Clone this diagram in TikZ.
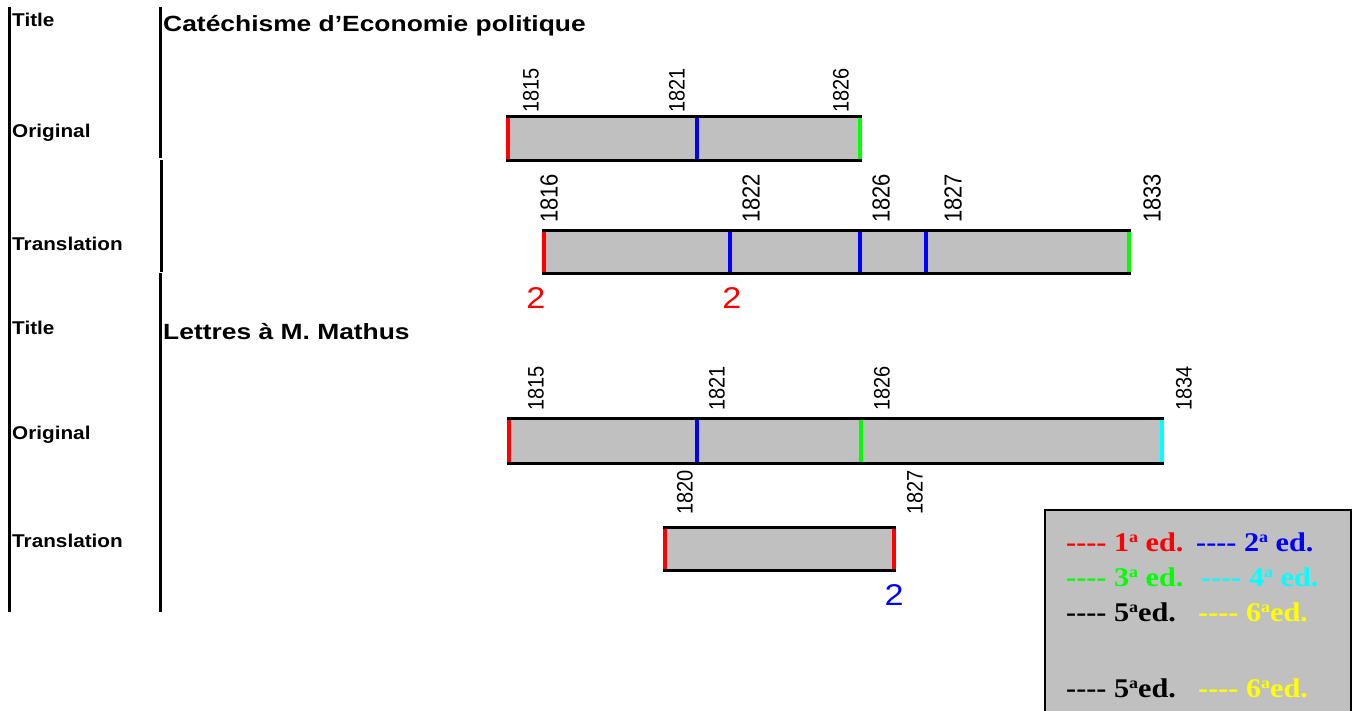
\documentclass[tikz,border=0pt]{standalone}
\usepackage{fontspec}
\setmainfont{Liberation Sans}
\newfontfamily\legfont{Liberation Serif}
\definecolor{barfill}{RGB}{192,192,192}
\definecolor{edred}{RGB}{255,0,0}
\definecolor{edblue}{RGB}{0,0,255}
\definecolor{edgreen}{RGB}{0,255,0}
\definecolor{edcyan}{RGB}{0,255,255}
\definecolor{edyellow}{RGB}{255,255,0}
\newcommand\legdashes{-\kern0pt-\kern0pt-\kern0pt-}
\newcommand\ordA{\raisebox{9pt}{\fontsize{16}{16}\selectfont a}}
\begin{document}
\begin{tikzpicture}[x=1pt,y=-1pt,
  rowlab/.style={anchor=base west, inner sep=0, xscale=1.12, font=\bfseries\fontsize{18.5}{20}\selectfont},
  booktitle/.style={anchor=base west, inner sep=0, xscale=1.2, font=\bfseries\fontsize{22}{24}\selectfont},
  yearlab/.style={anchor=south west, inner sep=0, xscale=1.12, rotate=90, font=\fontsize{20}{22}\selectfont},
  yearlabb/.style={yearlab, font=\fontsize{22}{24}\selectfont},
  countlab/.style={anchor=base, inner sep=0, xscale=1.14, font=\fontsize{30}{32}\selectfont},
  legtext/.style={anchor=base west, inner sep=0, xscale=1.12, font=\legfont\bfseries\fontsize{27}{29}\selectfont},
  frameline/.style={line width=3pt},
  barline/.style={line width=3pt},
  edmark/.style={line width=3.5pt}]
\useasboundingbox (0,0) rectangle (1368,710);

% frame lines
\draw[frameline] (9.5,7) -- (9.5,612);
\draw[frameline] (160,7) -- (160,158);
\draw[frameline] (161.5,160) -- (161.5,272);
\draw[frameline] (160.5,273) -- (160.5,612);

% row labels
\node[rowlab] (t1) at (12,26) {Title};
\node[rowlab] (o1) at (12,137) {Original};
\node[rowlab] (r1) at (12,250) {Translation};
\node[rowlab] (t2) at (12,334) {Title};
\node[rowlab] (o2) at (12,439) {Original};
\node[rowlab] (r2) at (12,547) {Translation};

\node[booktitle] (bt1) at (163,31) {Catéchisme d’Economie politique};
\node[booktitle] (bt2) at (163,339) {Lettres à M. Mathus};

% bar 1
\fill[barfill] (506,116) rectangle (862,160);
\draw[barline] (506,116) -- (862,116);
\draw[barline] (506,160) -- (862,160);
\draw[edmark,edred] (508,117.5) -- (508,158.5);
\draw[edmark,edblue] (697,117.5) -- (697,158.5);
\draw[edmark,edgreen] (860,117.5) -- (860,158.5);
\node[yearlab] (y11) at (539,113) {1815};
\node[yearlab] (y12) at (685,113) {1821};
\node[yearlab] (y13) at (849,113) {1826};

% bar 2
\fill[barfill] (542,230) rectangle (1131,273);
\draw[barline] (542,230) -- (1131,230);
\draw[barline] (542,273) -- (1131,273);
\draw[edmark,edred] (544,231.5) -- (544,271.5);
\draw[edmark,edblue] (730,231.5) -- (730,271.5);
\draw[edmark,edblue] (860,231.5) -- (860,271.5);
\draw[edmark,edblue] (926,231.5) -- (926,271.5);
\draw[edmark,edgreen] (1129,231.5) -- (1129,271.5);
\node[yearlabb] (y21) at (558,223) {1816};
\node[yearlabb] (y22) at (760,223) {1822};
\node[yearlabb] (y23) at (890,223) {1826};
\node[yearlabb] (y24) at (962,223) {1827};
\node[yearlabb] (y25) at (1161,223) {1833};
\node[countlab,text=edred] (c21) at (536,308) {2};
\node[countlab,text=edred] (c22) at (732,308) {2};

% bar 3
\fill[barfill] (507,418) rectangle (1164,463);
\draw[barline] (507,418) -- (1164,418);
\draw[barline] (507,463) -- (1164,463);
\draw[edmark,edred] (509,419.5) -- (509,461.5);
\draw[edmark,edblue] (697,419.5) -- (697,461.5);
\draw[edmark,edgreen] (861,419.5) -- (861,461.5);
\draw[edmark,edcyan] (1162,419.5) -- (1162,461.5);
\node[yearlab] (y31) at (544,411) {1815};
\node[yearlab] (y32) at (725,411) {1821};
\node[yearlab] (y33) at (890,411) {1826};
\node[yearlab] (y34) at (1192,411) {1834};

% bar 4
\fill[barfill] (663,527) rectangle (896,570);
\draw[barline] (663,527) -- (896,527);
\draw[barline] (663,570) -- (896,570);
\draw[edmark,edred] (665,528.5) -- (665,568.5);
\draw[edmark,edred] (894,528.5) -- (894,568.5);
\node[yearlab] (y41) at (693,515) {1820};
\node[yearlab] (y42) at (923,515) {1827};
\node[countlab,text=edblue] (c41) at (894,605) {2};

% legend
\draw[line width=2pt, fill=barfill] (1045,510) rectangle (1351,714);
\node[legtext,text=edred] (l1) at (1066,551) {\legdashes{} 1\ordA{} ed.};
\node[legtext,text=edblue] (l2) at (1196,551) {\legdashes{} 2\ordA{} ed.};
\node[legtext,text=edgreen] (l3) at (1066,586) {\legdashes{} 3\ordA{} ed.};
\node[legtext,text=edcyan] (l4) at (1201,586) {\legdashes{} 4\ordA{} ed.};
\node[legtext,text=black] (l5) at (1066,621) {\legdashes{} 5\ordA{}ed.};
\node[legtext,text=edyellow] (l6) at (1198,621) {\legdashes{} 6\ordA{}ed.};
\node[legtext,text=black] (l7) at (1066,697) {\legdashes{} 5\ordA{}ed.};
\node[legtext,text=edyellow] (l8) at (1198,697) {\legdashes{} 6\ordA{}ed.};
\end{tikzpicture}
\end{document}
